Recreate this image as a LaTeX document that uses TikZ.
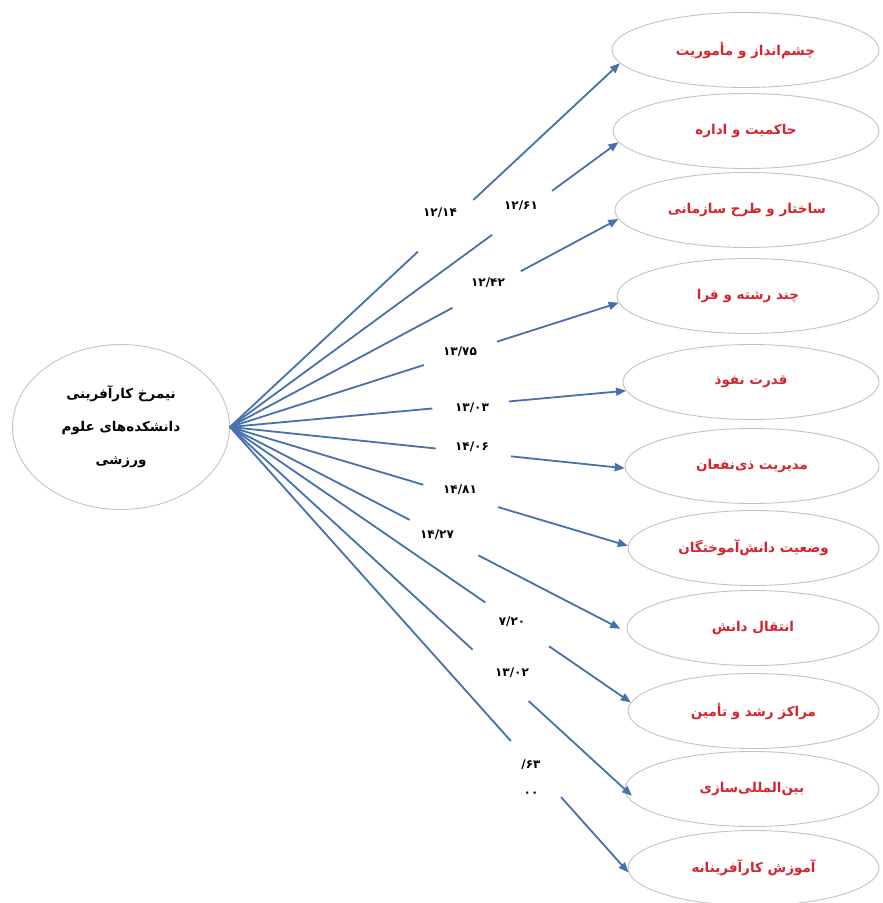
\documentclass[tikz,border=0pt]{standalone}
\usepackage{fontspec}
\usetikzlibrary{calc,arrows.meta,shapes.geometric}
\TeXXeTstate=1
\newfontfamily\arabicfont[Script=Arabic]{DejaVu Sans}
\newfontfamily\numfont{DejaVu Sans}
\definecolor{arrowblue}{RGB}{72,112,172}
\definecolor{ellgray}{RGB}{195,195,195}
\definecolor{txtred}{RGB}{215,35,45}
\tikzset{
  ell/.style={ellipse, draw=ellgray, line width=0.9pt, inner sep=0pt, minimum height=75pt,
    text=txtred, font=\arabicfont\bfseries\fontsize{13.5}{15}\selectfont},
  src/.style={ellipse, draw=ellgray, line width=0.9pt, inner sep=0pt, minimum width=217pt,
    minimum height=165pt, align=center, font=\arabicfont\bfseries\fontsize{13.5}{33}\selectfont},
  lab/.style={font=\numfont\bfseries\fontsize{12}{28}\selectfont, inner sep=1pt, align=center},
  ln/.style={draw=arrowblue, line width=1.8pt},
  arr/.style={-{Triangle[length=10pt,width=8pt]}}
}
\begin{document}
\begin{tikzpicture}[x=1pt,y=-1pt]
\useasboundingbox (0,0) rectangle (883,903);
\fill[white] (0,0) rectangle (883,903);

\node[src] (L) at (121,427) {\beginR نیمرخ کارآفرینی\endR\\\beginR دانشکده‌های علوم\endR\\\beginR ورزشی\endR};

\node[ell, minimum width=267pt] (e1) at (745.5,50) {\beginR چشم‌انداز و مأموریت\endR};
\node[ell, minimum width=266pt] (e2) at (746,131) {\beginR حاکمیت و اداره\endR};
\node[ell, minimum width=264pt] (e3) at (747,210) {\beginR ساختار و طرح سازمانی\endR};
\node[ell, minimum width=262pt] (e4) at (748,296) {\beginR چند رشته و فرا\endR};
\node[ell, minimum width=256pt] (e5) at (751,382) {\beginR قدرت نفوذ\endR};
\node[ell, minimum width=254pt] (e6) at (752,466) {\beginR مدیریت ذی‌نفعان\endR};
\node[ell, minimum width=251pt] (e7) at (753.5,548) {\beginR وضعیت دانش‌آموختگان\endR};
\node[ell, minimum width=252pt] (e8) at (753,628) {\beginR انتقال دانش\endR};
\node[ell, minimum width=251pt] (e9) at (753.5,711) {\beginR مراکز رشد و تأمین\endR};
\node[ell, minimum width=254pt] (e10) at (752,789) {\beginR بین‌المللی‌سازی\endR};
\node[ell, minimum width=251pt] (e11) at (753.5,868) {\beginR آموزش کارآفرینانه\endR};

\node[lab] (l1) at (440,213) {۱۲/۱۴};
\node[lab] (l2) at (521,206) {۱۲/۶۱};
\node[lab] (l3) at (488,283) {۱۲/۴۲};
\node[lab] (l4) at (460,352) {۱۳/۷۵};
\node[lab] (l5) at (472,408) {۱۳/۰۳};
\node[lab] (l6) at (472,447) {۱۴/۰۶};
\node[lab] (l7) at (460,490) {۱۴/۸۱};
\node[lab] (l8) at (437,535) {۱۴/۲۷};
\node[lab] (l9) at (512,622) {۷/۲۰};
\node[lab] (l10) at (512,673) {۱۳/۰۲};
\node[lab] (l11) at (531,778) {/۶۳\\۰۰};

\foreach \i/\ang/\a/\b/\sh in {1/186/0.482/0.624/0, 2/185/0.675/0.829/0, 3/184/0.573/0.749/0,
  4/183/0.499/0.687/0, 5/184/0.511/0.704/0, 6/181/0.521/0.712/0, 7/179/0.486/0.674/0,
  8/182/0.452/0.625/8, 9/176/0.637/0.796/0, 10/180/0.615/0.757/-10, 11/182/0.705/0.831/0} {
  \draw[ln] (L.east) -- ($(L.east)!\a!(e\i.\ang)$);
  \draw[ln,arr,shorten >=\sh pt] ($(L.east)!\b!(e\i.\ang)$) -- (e\i.\ang);
}
\end{tikzpicture}
\end{document}
